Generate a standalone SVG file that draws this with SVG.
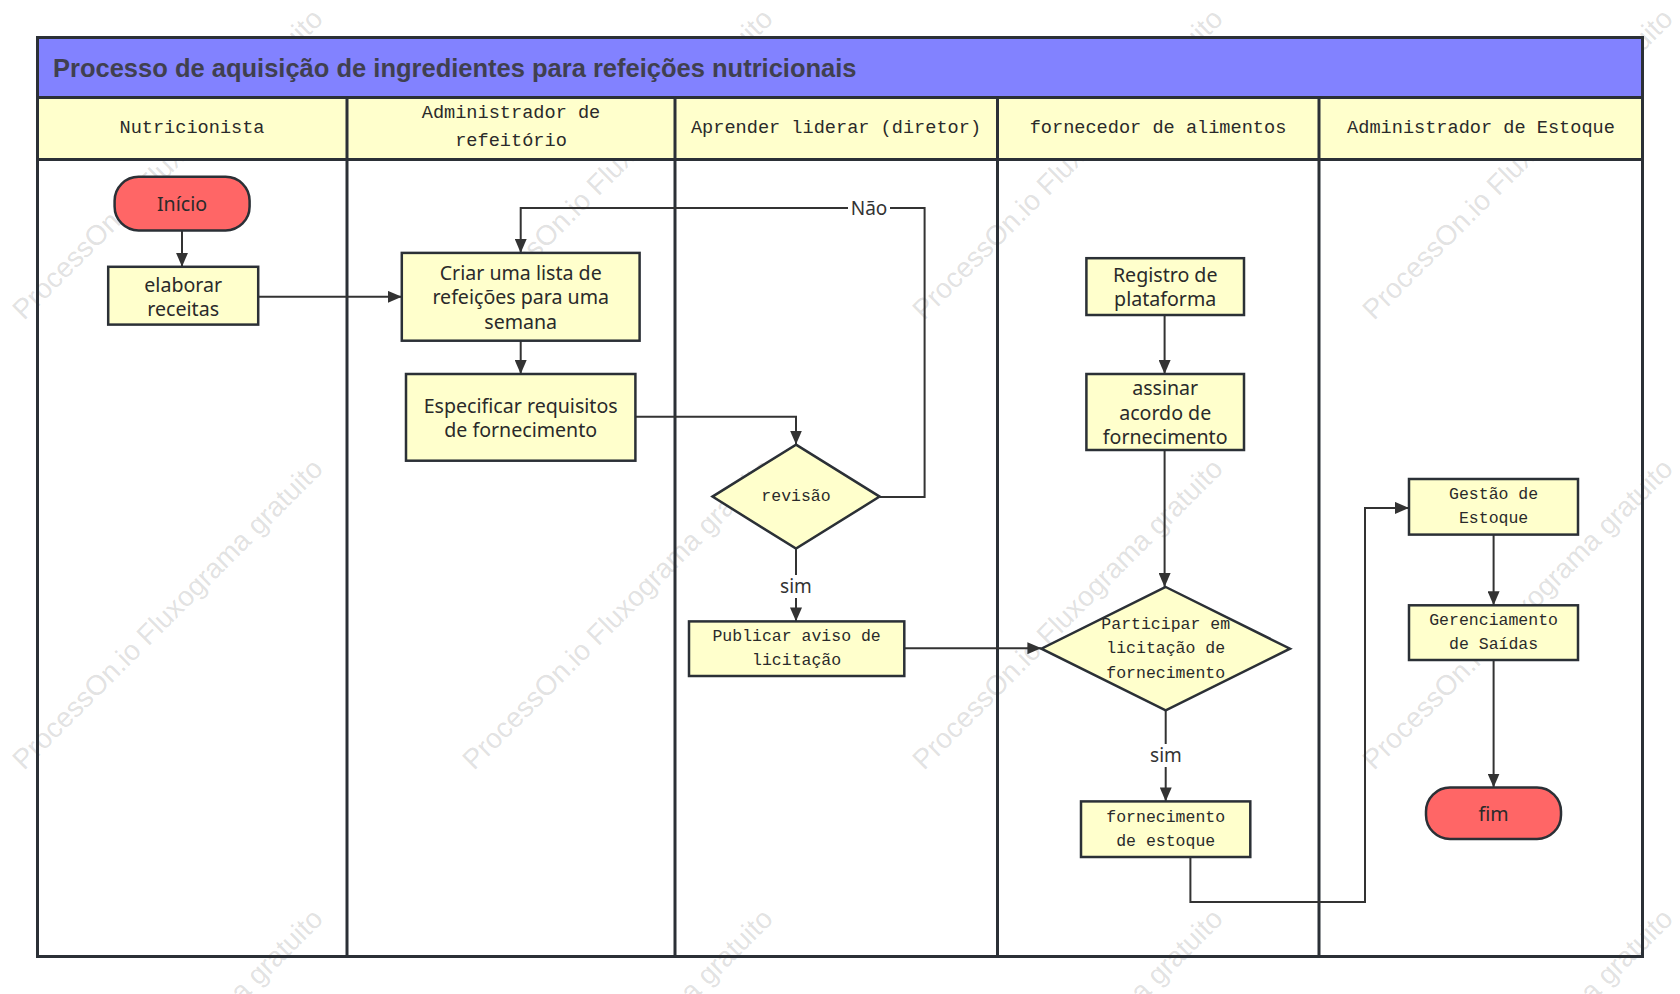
<svg xmlns="http://www.w3.org/2000/svg" width="1680" height="994" viewBox="0 0 1680 994">
<style>
.lane{fill:none;stroke:#2b3036;stroke-width:3}
.hdr{fill:#ffffcc;stroke:#2b3036;stroke-width:3}
.box{fill:#ffffcc;stroke:#2b3036;stroke-width:2.5}
.term{fill:#ff6666;stroke:#2b3036;stroke-width:2.5}
.conn{fill:none;stroke:#333;stroke-width:2}
.sans{font-family:"Noto Sans","Open Sans","Liberation Sans",sans-serif;font-size:19.6px;fill:#2a2a2a;text-anchor:middle;dominant-baseline:central}
.mono{font-family:"Liberation Mono","DejaVu Sans Mono",monospace;font-size:16.5px;fill:#2a2a2a;text-anchor:middle;dominant-baseline:central}
.hmono{font-family:"Liberation Mono","DejaVu Sans Mono",monospace;font-size:18.6px;fill:#2a2a2a;text-anchor:middle;dominant-baseline:central}
.lbl{font-family:"Noto Sans","Open Sans","Liberation Sans",sans-serif;font-size:19px;fill:#333;text-anchor:middle;dominant-baseline:central}
.wm{font-family:"Liberation Sans",Arial,sans-serif;font-size:28px;fill:#808080;fill-opacity:0.24}
</style>
<defs>
<marker id="arr" markerUnits="userSpaceOnUse" markerWidth="14" markerHeight="12" refX="14" refY="6" orient="auto">
<path d="M0,0 L14,6 L0,12 z" fill="#333"/>
</marker>
</defs>
<rect width="1680" height="994" fill="#fff"/>

<g id="watermarks">
<text class="wm" transform="translate(24,321) rotate(-45)">ProcessOn.io Fluxograma gratuito</text>
<text class="wm" transform="translate(474,321) rotate(-45)">ProcessOn.io Fluxograma gratuito</text>
<text class="wm" transform="translate(924,321) rotate(-45)">ProcessOn.io Fluxograma gratuito</text>
<text class="wm" transform="translate(1374,321) rotate(-45)">ProcessOn.io Fluxograma gratuito</text>
<text class="wm" transform="translate(24,771) rotate(-45)">ProcessOn.io Fluxograma gratuito</text>
<text class="wm" transform="translate(474,771) rotate(-45)">ProcessOn.io Fluxograma gratuito</text>
<text class="wm" transform="translate(924,771) rotate(-45)">ProcessOn.io Fluxograma gratuito</text>
<text class="wm" transform="translate(1374,771) rotate(-45)">ProcessOn.io Fluxograma gratuito</text>
<text class="wm" transform="translate(24,1221) rotate(-45)">ProcessOn.io Fluxograma gratuito</text>
<text class="wm" transform="translate(474,1221) rotate(-45)">ProcessOn.io Fluxograma gratuito</text>
<text class="wm" transform="translate(924,1221) rotate(-45)">ProcessOn.io Fluxograma gratuito</text>
<text class="wm" transform="translate(1374,1221) rotate(-45)">ProcessOn.io Fluxograma gratuito</text>
</g>

<g id="pool">
<rect x="37.5" y="37.5" width="1605" height="60" fill="#8282ff" stroke="#2b3036" stroke-width="3"/>
<text x="53" y="67.5" font-family="'Liberation Sans',Arial,sans-serif" font-size="25.5" font-weight="bold" fill="#40404f" dominant-baseline="central">Processo de aquisição de ingredientes para refeições nutricionais</text>
<rect class="hdr" x="37.5" y="97.5" width="1605" height="62"/>
<rect class="lane" x="37.5" y="37.5" width="1605" height="919"/>
<line class="lane" x1="347" y1="97.5" x2="347" y2="956.5"/>
<line class="lane" x1="675" y1="97.5" x2="675" y2="956.5"/>
<line class="lane" x1="997.5" y1="97.5" x2="997.5" y2="956.5" stroke-width="3.5"/>
<line class="lane" x1="1319" y1="97.5" x2="1319" y2="956.5"/>
<line class="lane" x1="37.5" y1="159.5" x2="1642.5" y2="159.5"/>
<text class="hmono" x="192" y="128.6">Nutricionista</text>
<text class="hmono" x="511" y="113.6">Administrador de</text>
<text class="hmono" x="511" y="141.4">refeitório</text>
<text class="hmono" x="836" y="128.6">Aprender liderar (diretor)</text>
<text class="hmono" x="1158" y="128.6">fornecedor de alimentos</text>
<text class="hmono" x="1481" y="128.6">Administrador de Estoque</text>
</g>

<g id="connectors">
<path class="conn" d="M182,230.4 V266.8" marker-end="url(#arr)"/>
<path class="conn" d="M258.2,296.8 H401.8" marker-end="url(#arr)"/>
<path class="conn" d="M520.7,340.7 V374" marker-end="url(#arr)"/>
<path class="conn" d="M635.4,416.8 H796 V444.6" marker-end="url(#arr)"/>
<path class="conn" d="M879.6,497 H924.6 V207.9 H520.7 V252.9" marker-end="url(#arr)"/>
<path class="conn" d="M796,548.6 V621.4" marker-end="url(#arr)"/>
<path class="conn" d="M904.3,648.2 H1041.4" marker-end="url(#arr)"/>
<path class="conn" d="M1164.6,315 V374" marker-end="url(#arr)"/>
<path class="conn" d="M1164.6,450 V587" marker-end="url(#arr)"/>
<path class="conn" d="M1165.7,710.3 V801.4" marker-end="url(#arr)"/>
<path class="conn" d="M1190.4,857 V902 H1365 V507.9 H1409" marker-end="url(#arr)"/>
<path class="conn" d="M1493.6,534.6 V605.3" marker-end="url(#arr)"/>
<path class="conn" d="M1493.6,660 V787.5" marker-end="url(#arr)"/>
<rect x="848" y="197" width="42" height="22" fill="#fff"/>
<text class="lbl" x="869" y="208">Não</text>
<rect x="778" y="575" width="36" height="23" fill="#fff"/>
<text class="lbl" x="796" y="586">sim</text>
<rect x="1148" y="744" width="36" height="23" fill="#fff"/>
<text class="lbl" x="1166" y="755">sim</text>
</g>

<g id="inicio">
<rect class="term" x="114.6" y="176.8" width="135" height="53.6" rx="24" ry="24"/>
<text class="sans" x="182" y="203.6">Início</text>
</g>
<g id="elaborar">
<rect class="box" x="108.2" y="266.8" width="150" height="57.8"/>
<text class="sans" x="183.2" y="284">elaborar</text>
<text class="sans" x="183.2" y="308">receitas</text>
</g>
<g id="criar">
<rect class="box" x="401.8" y="252.9" width="237.8" height="87.8"/>
<text class="sans" x="520.7" y="272">Criar uma lista de</text>
<text class="sans" x="520.7" y="296.8">refeições para uma</text>
<text class="sans" x="520.7" y="321.4">semana</text>
</g>
<g id="especificar">
<rect class="box" x="406" y="374" width="229.4" height="86.7"/>
<text class="sans" x="520.7" y="405">Especificar requisitos</text>
<text class="sans" x="520.7" y="429.6">de fornecimento</text>
</g>
<g id="revisao">
<polygon class="box" points="796,444.6 879.6,496.6 796,548.6 712.5,496.6"/>
<text class="mono" x="796" y="496.6">revisão</text>
</g>
<g id="publicar">
<rect class="box" x="689" y="621.4" width="215.3" height="54.6"/>
<text class="mono" x="796.6" y="636.8">Publicar aviso de</text>
<text class="mono" x="796.6" y="660.4">licitação</text>
</g>
<g id="registro">
<rect class="box" x="1086.4" y="258.2" width="157.6" height="56.8"/>
<text class="sans" x="1165.2" y="274.3">Registro de</text>
<text class="sans" x="1165.2" y="298.5">plataforma</text>
</g>
<g id="assinar">
<rect class="box" x="1086.4" y="374" width="157.6" height="76"/>
<text class="sans" x="1165.2" y="387.4">assinar</text>
<text class="sans" x="1165.2" y="412">acordo de</text>
<text class="sans" x="1165.2" y="436.6">fornecimento</text>
</g>
<g id="participar">
<polygon class="box" points="1165.7,587 1290,648.7 1165.7,710.3 1041.4,648.7"/>
<text class="mono" x="1165.7" y="624">Participar em</text>
<text class="mono" x="1165.7" y="648.7">licitação de</text>
<text class="mono" x="1165.7" y="673">fornecimento</text>
</g>
<g id="fornecimento-estoque">
<rect class="box" x="1081" y="801.4" width="169.3" height="55.6"/>
<text class="mono" x="1165.7" y="817">fornecimento</text>
<text class="mono" x="1165.7" y="841">de estoque</text>
</g>
<g id="gestao">
<rect class="box" x="1409" y="479" width="169" height="55.6"/>
<text class="mono" x="1493.6" y="494.8">Gestão de</text>
<text class="mono" x="1493.6" y="518.8">Estoque</text>
</g>
<g id="gerenciamento">
<rect class="box" x="1409" y="605.3" width="169" height="54.7"/>
<text class="mono" x="1493.6" y="620.6">Gerenciamento</text>
<text class="mono" x="1493.6" y="644.6">de Saídas</text>
</g>
<g id="fim">
<rect class="term" x="1426" y="787.5" width="135" height="51.5" rx="24" ry="24"/>
<text class="sans" x="1493.6" y="813">fim</text>
</g>
</svg>
